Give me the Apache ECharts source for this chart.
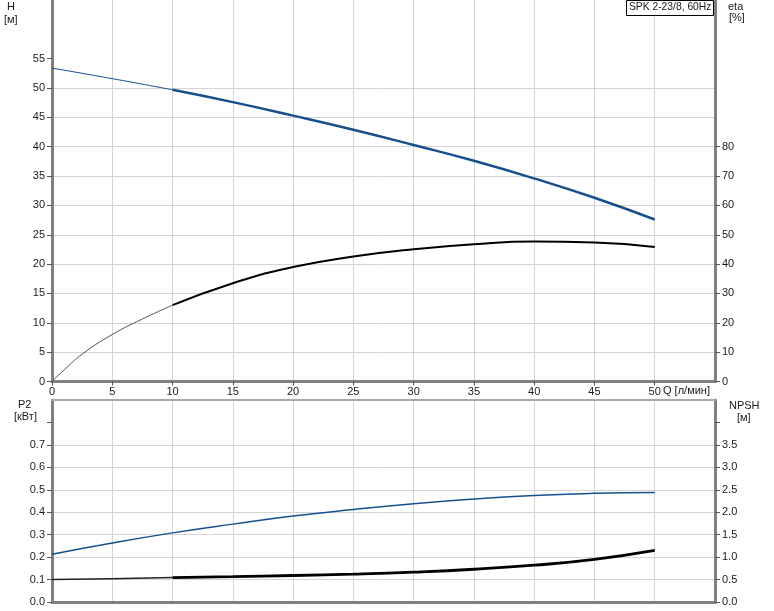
<!DOCTYPE html>
<html><head><meta charset="utf-8">
<script src="https://cdn.jsdelivr.net/npm/echarts@6/dist/echarts.min.js"></script>
<style>html,body{margin:0;padding:0;background:#fff}#c{width:774px;height:611px}</style>
</head><body><div id="c"></div>
<script>
// ---- data ----
const qThinH = [0, 5, 10];
const hThin = [53.4, 51.6, 49.7];
const qThickH = [10, 15, 20, 25, 30, 35, 40, 45, 50];
const hThick = [49.7, 47.6, 45.3, 42.9, 40.3, 37.6, 34.6, 31.3, 27.6];

const qThinEta = [0, 1, 2.5, 5, 7.5, 10];
const etaThin = [0, 3.9, 9.3, 16.0, 21.3, 26.0];
const qThickEta = [10, 15, 20, 25, 30, 35, 40, 45, 50];
const etaThick = [26.0, 33.5, 39.0, 42.6, 45.1, 46.8, 47.7, 47.4, 45.8];

const qP2 = [0, 5, 10, 15, 20, 25, 30, 35, 40, 45, 50];
const p2 = [0.213, 0.263, 0.308, 0.347, 0.383, 0.412, 0.438, 0.459, 0.475, 0.484, 0.488];

const qThinN = [0, 5, 10];
const npshThin = [0.50, 0.52, 0.545];
const qThickN = [10, 15, 20, 25, 30, 35, 40, 45, 50];
const npshThick = [0.545, 0.565, 0.59, 0.62, 0.665, 0.73, 0.82, 0.95, 1.15];

const hLabels = [0, 5, 10, 15, 20, 25, 30, 35, 40, 45, 50, 55];
const etaLabels = [0, 10, 20, 30, 40, 50, 60, 70, 80];
const p2Labels = [0, 0.1, 0.2, 0.3, 0.4, 0.5, 0.6, 0.7];
const p2TickVals = [0, 0.1, 0.2, 0.3, 0.4, 0.5, 0.6, 0.7, 0.8];
const npshLabels = [0, 0.5, 1, 1.5, 2, 2.5, 3, 3.5];
const npshTickVals = [0, 0.5, 1, 1.5, 2, 2.5, 3, 3.5, 4];
const qLabels = [0, 5, 10, 15, 20, 25, 30, 35, 40, 45, 50];

const zip = (a, b) => a.map((v, i) => [v, b[i]]);

// ---- styles ----
const FONT = 'Liberation Sans';
const AX = '#808080';
const GRID = '#d4d4d4';
const BLUE = '#164f8e';
const lab = {fontFamily: FONT, fontSize: 11, color: '#1a1a1a'};

function yAx(gi, min, max, interval, labels, ticks, pos, dec, grid) {
  return {
    type: 'value', gridIndex: gi, min, max, interval, position: pos,
    axisLine: {show: true, onZero: false, lineStyle: {color: AX, width: 3}},
    axisTick: {show: true, length: 5, lineStyle: {color: '#555'}, customValues: ticks},
    axisLabel: Object.assign({}, lab, {margin: 7, customValues: labels,
      formatter: v => dec ? v.toFixed(1) : String(v)}),
    splitLine: {show: grid, showMaxLine: false, lineStyle: {color: GRID, width: 1}}
  };
}

function line(xi, yi, data, color, width) {
  return {type: 'line', xAxisIndex: xi, yAxisIndex: yi, data, smooth: true,
    showSymbol: false, lineStyle: {color, width}};
}

const chart = echarts.init(document.getElementById('c'), null, {renderer: 'canvas'});
chart.setOption({
  animation: false,
  backgroundColor: '#fff',
  grid: [
    {left: 52, right: 59, top: 0, height: 381.5},
    {left: 52, right: 59, top: 400, height: 202}
  ],
  xAxis: [
    {type: 'value', gridIndex: 0, min: 0, max: 55, interval: 5,
     axisLine: {onZero: false, lineStyle: {color: AX, width: 3}},
     axisTick: {show: true, length: 4, lineStyle: {color: '#555'}, customValues: qLabels},
     axisLabel: Object.assign({}, lab, {margin: 5, customValues: qLabels}),
     splitLine: {show: true, lineStyle: {color: GRID}}},
    {type: 'value', gridIndex: 1, min: 0, max: 55, interval: 5,
     axisLine: {onZero: false, lineStyle: {color: AX, width: 3}},
     axisTick: {show: false}, axisLabel: {show: false},
     splitLine: {show: true, lineStyle: {color: GRID}}},
    {type: 'value', gridIndex: 1, min: 0, max: 55, interval: 5, position: 'top',
     axisLine: {onZero: false, lineStyle: {color: '#a8a8a8', width: 2}},
     axisTick: {show: false}, axisLabel: {show: false}, splitLine: {show: false}}
  ],
  yAxis: [
    yAx(0, 0, 65, 5, hLabels, hLabels, 'left', false, true),
    yAx(0, 0, 130, 10, etaLabels, etaLabels, 'right', false, false),
    yAx(1, 0, 0.9, 0.1, p2Labels, p2TickVals, 'left', true, true),
    yAx(1, 0, 4.5, 0.5, npshLabels, npshTickVals, 'right', true, false)
  ],
  series: [
    line(0, 0, zip(qThinH, hThin), BLUE, 1),
    line(0, 0, zip(qThickH, hThick), BLUE, 2.5),
    line(0, 1, zip(qThinEta, etaThin), '#555', 1),
    line(0, 1, zip(qThickEta, etaThick), '#000', 2),
    line(1, 2, zip(qP2, p2), BLUE, 1.5),
    line(1, 3, zip(qThinN, npshThin), '#222', 1.5),
    line(1, 3, zip(qThickN, npshThick), '#000', 2.8)
  ],
  graphic: [
    {type: 'text', left: 7, top: 1, style: {text: 'H', font: '11px ' + FONT, fill: '#1a1a1a'}},
    {type: 'text', left: 4, top: 14, style: {text: '[м]', font: '11px ' + FONT, fill: '#1a1a1a'}},
    {type: 'text', left: 728, top: 1, style: {text: 'eta', font: '11px ' + FONT, fill: '#1a1a1a'}},
    {type: 'text', left: 729, top: 12, style: {text: '[%]', font: '11px ' + FONT, fill: '#1a1a1a'}},
    {type: 'text', left: 663, top: 385, style: {text: 'Q [л/мин]', font: '11px ' + FONT, fill: '#1a1a1a'}},
    {type: 'text', left: 18, top: 399, style: {text: 'P2', font: '11px ' + FONT, fill: '#1a1a1a'}},
    {type: 'text', left: 14, top: 411, style: {text: '[кВт]', font: '11px ' + FONT, fill: '#1a1a1a'}},
    {type: 'text', left: 729, top: 400, style: {text: 'NPSH', font: '11px ' + FONT, fill: '#1a1a1a'}},
    {type: 'text', left: 737, top: 412, style: {text: '[м]', font: '11px ' + FONT, fill: '#1a1a1a'}},
    {type: 'rect', left: 626, top: 0, shape: {width: 87, height: 15}, style: {fill: '#fff', stroke: '#000', lineWidth: 1}, z: 10},
    {type: 'text', left: 629, top: 2, z: 11, style: {text: 'SPK 2-23/8, 60Hz', font: '10.3px ' + FONT, fill: '#1a1a1a'}}
  ]
});
</script></body></html>
